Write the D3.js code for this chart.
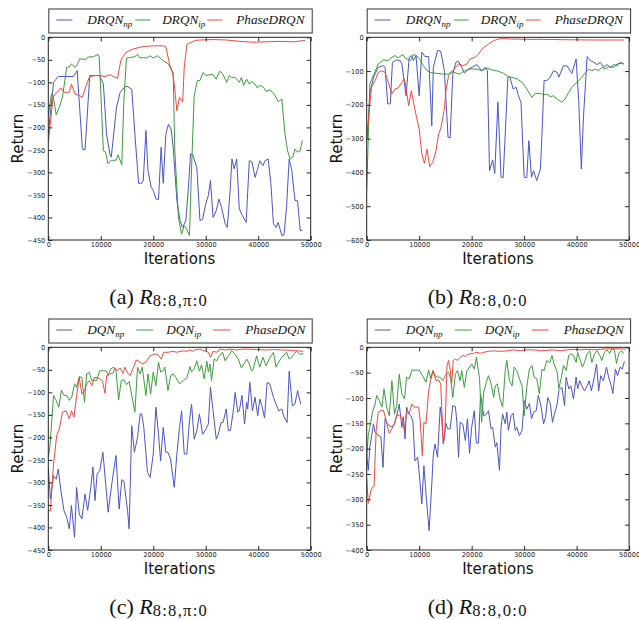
<!DOCTYPE html>
<html>
<head>
<meta charset="utf-8">
<script src="https://cdn.jsdelivr.net/npm/d3@7"></script>
<style>
  body { margin: 0; background: #fff; }
  .tick text { font-family: "DejaVu Sans", sans-serif; font-size: 6.6px; fill: #222; }
  .tick line { stroke: #222; }
</style>
</head>
<body>
<div id="chart"></div>
<script>
// [iterations, return]

// (a) DRQN, R 8:8,pi:0
var aNp = [[0,-215],[1000,-100],[1900,-87],[4800,-87],[5500,-74],[6500,-248],[7000,-250],[7900,-85],[9800,-85],[10500,-104],[11100,-215],[11800,-263],[12000,-266],[13000,-155],[13700,-122],[14600,-110],[15000,-109],[15900,-115],[16500,-215],[17200,-324],[17800,-324],[18100,-318],[18600,-207],[19000,-296],[19600,-333],[20000,-340],[20500,-359],[21000,-360],[21500,-244],[21900,-324],[22400,-215],[22900,-193],[23400,-204],[23800,-244],[24500,-362],[25100,-407],[25600,-422],[26200,-407],[26700,-333],[27100,-259],[27500,-260],[28300,-289],[28900,-407],[29400,-404],[30000,-370],[30500,-351],[30900,-318],[31400,-400],[32000,-385],[32500,-359],[33000,-377],[33700,-414],[34100,-422],[34600,-348],[35000,-270],[35400,-292],[35900,-270],[36400,-381],[37000,-396],[37700,-411],[38300,-274],[38800,-276],[39400,-311],[39800,-296],[40300,-274],[40900,-285],[41300,-274],[41900,-270],[42400,-322],[42900,-414],[43400,-422],[43800,-411],[44500,-440],[44900,-439],[45400,-377],[45900,-270],[46400,-296],[47000,-362],[47500,-363],[48000,-429],[48400,-429]];
var aIp = [[0,-175],[600,-126],[900,-128],[1500,-172],[2100,-155],[2700,-133],[3500,-67],[4000,-66],[4400,-59],[5100,-67],[5500,-61],[6000,-48],[6500,-48],[7000,-50],[7600,-44],[8600,-43],[9500,-38],[9700,-44],[10500,-252],[10900,-255],[11400,-281],[12000,-273],[12900,-273],[13300,-261],[14000,-283],[14400,-140],[14900,-46],[15500,-45],[16500,-43],[17000,-38],[17500,-46],[18100,-45],[18700,-46],[19400,-41],[20000,-46],[20800,-41],[21300,-46],[21900,-52],[22900,-59],[23200,-67],[23800,-78],[24100,-250],[24800,-400],[25400,-437],[25900,-418],[26200,-422],[26900,-440],[27300,-290],[27800,-130],[28400,-96],[28900,-96],[29500,-78],[30000,-85],[30800,-83],[31400,-83],[32000,-93],[32600,-76],[33000,-78],[33300,-83],[34000,-100],[34500,-85],[34900,-89],[35600,-89],[36400,-100],[36800,-89],[37200,-107],[37800,-93],[38300,-104],[38700,-98],[39400,-104],[39800,-112],[40300,-107],[41000,-111],[41500,-120],[42200,-117],[42900,-124],[43400,-133],[43800,-143],[44500,-137],[45100,-215],[45600,-252],[46100,-270],[46600,-266],[47000,-248],[47500,-255],[48000,-252],[48400,-229]];
var aPh = [[0,-235],[900,-133],[1600,-122],[1900,-120],[2400,-112],[3000,-122],[4000,-122],[4400,-104],[5100,-126],[6000,-130],[6500,-133],[7300,-104],[7900,-87],[8900,-85],[9800,-85],[10800,-87],[11800,-83],[12700,-89],[13200,-91],[13800,-52],[14600,-36],[15200,-31],[16200,-26],[17500,-22],[18700,-20],[20000,-19],[21900,-19],[22400,-21],[23100,-59],[23700,-81],[24000,-104],[24500,-163],[25000,-133],[25600,-144],[25900,-67],[26400,-16],[26900,-13],[28000,-7],[28900,-6],[31400,-5],[34000,-6],[36500,-9],[39000,-11],[41600,-10],[44100,-9],[46700,-10],[48900,-7]];

// (b) DRQN, R 8:8,0:0
var bNp = [[100,-300],[600,-168],[1300,-118],[2200,-89],[3200,-84],[3500,-89],[4000,-197],[4500,-197],[4900,-74],[5700,-67],[6400,-69],[6700,-79],[7500,-173],[8100,-59],[8600,-54],[8900,-69],[9400,-54],[10000,-173],[10500,-44],[11100,-57],[11800,-57],[12400,-262],[12700,-89],[13500,-39],[14100,-41],[14800,-99],[15500,-296],[15900,-298],[16400,-108],[17000,-74],[17500,-71],[18100,-89],[18600,-106],[19400,-94],[21000,-81],[21900,-99],[22600,-89],[23000,-99],[23400,-395],[24000,-363],[24400,-403],[25000,-192],[25600,-414],[26000,-416],[26400,-286],[26900,-118],[27300,-118],[27900,-153],[28500,-148],[28900,-173],[29400,-192],[30000,-414],[30500,-416],[30900,-306],[31400,-414],[31800,-395],[32400,-424],[33100,-390],[33400,-286],[33800,-128],[34300,-128],[34900,-120],[35600,-99],[36300,-104],[36600,-118],[37500,-84],[38200,-85],[39100,-107],[39900,-64],[40400,-187],[40900,-390],[41300,-237],[42000,-57],[42600,-69],[43300,-74],[43900,-81],[44500,-74],[45200,-89],[45800,-81],[46400,-89],[47100,-81],[47700,-84],[48300,-74],[49000,-79]];
var bIp = [[0,-454],[600,-138],[1800,-94],[2200,-79],[3200,-67],[4100,-69],[4800,-59],[5400,-54],[6000,-61],[6900,-51],[7300,-61],[8300,-69],[8900,-51],[9500,-54],[10200,-67],[10800,-84],[11500,-99],[12100,-104],[13400,-107],[14600,-109],[15600,-109],[16200,-101],[17200,-107],[17800,-109],[18400,-101],[19700,-94],[21000,-94],[21900,-99],[22900,-91],[23900,-97],[24800,-99],[26100,-107],[27000,-116],[28000,-120],[28600,-123],[29600,-133],[30500,-153],[31500,-178],[32100,-166],[33100,-166],[33700,-170],[34300,-168],[35000,-176],[35600,-173],[36300,-183],[37200,-192],[37800,-183],[38500,-163],[39100,-148],[39700,-138],[40400,-128],[41000,-118],[41700,-104],[42300,-94],[42900,-99],[43600,-94],[44200,-99],[44800,-89],[45500,-94],[46100,-87],[47100,-89],[47700,-79],[48500,-77],[49000,-79]];
var bPh = [[100,-286],[900,-148],[1600,-128],[2200,-104],[2900,-99],[3500,-104],[4100,-133],[4800,-168],[5400,-153],[6000,-150],[6700,-133],[7200,-123],[8000,-202],[8500,-158],[9100,-207],[9500,-237],[10000,-271],[10500,-345],[11000,-373],[11500,-331],[12000,-383],[12600,-370],[13200,-336],[13700,-286],[14100,-271],[14800,-212],[15100,-158],[15600,-113],[16200,-104],[16900,-89],[17500,-79],[18400,-84],[19100,-79],[19700,-64],[20700,-59],[21300,-49],[22300,-30],[23200,-20],[24200,-10],[25100,-5],[26100,-4],[27400,-5],[30500,-6],[33700,-6],[36900,-7],[43200,-8],[49000,-8]];

// (c) DQN, R 8:8,pi:0
var cNp = [[0,-266],[400,-337],[1000,-285],[1500,-293],[1900,-270],[2400,-318],[3000,-363],[3500,-377],[4000,-403],[4400,-351],[5000,-422],[5400,-311],[5900,-370],[6400,-381],[7000,-326],[7500,-362],[8100,-311],[8500,-266],[8900,-340],[9300,-281],[9800,-274],[10400,-233],[11000,-311],[11400,-366],[12100,-303],[12900,-240],[13500,-359],[14000,-294],[14400,-297],[15100,-362],[15400,-403],[15900,-174],[16400,-233],[17000,-200],[17500,-148],[17800,-148],[18200,-178],[18900,-278],[19400,-289],[20000,-237],[20500,-133],[21000,-193],[21400,-252],[21900,-178],[22400,-233],[22800,-233],[23300,-248],[24000,-311],[24500,-237],[25000,-178],[25400,-141],[25900,-237],[26400,-237],[26900,-163],[27300,-126],[27800,-204],[28300,-185],[28800,-148],[29400,-193],[29900,-185],[30500,-170],[30900,-89],[31400,-141],[32000,-204],[32400,-193],[32900,-167],[33300,-167],[33900,-137],[34300,-185],[34700,-185],[35300,-137],[35600,-100],[36100,-144],[36400,-141],[36900,-107],[37400,-170],[37800,-122],[38000,-137],[38400,-78],[38900,-141],[39400,-111],[39900,-152],[40300,-115],[40700,-130],[41200,-157],[41700,-78],[42200,-81],[42900,-111],[43400,-126],[43900,-141],[44500,-137],[44900,-154],[45500,-167],[45900,-53],[46500,-130],[47000,-126],[47500,-96],[48100,-126]];
var cIp = [[0,-244],[300,-222],[1000,-107],[1500,-118],[2000,-133],[2500,-95],[3000,-107],[3500,-107],[4000,-118],[4500,-109],[5000,-81],[5400,-89],[5900,-65],[6400,-67],[6900,-122],[7300,-59],[7800,-56],[8300,-74],[8800,-73],[9200,-74],[9800,-52],[10500,-52],[11100,-53],[11400,-63],[11900,-48],[12500,-44],[12900,-52],[13400,-117],[13900,-74],[14400,-72],[14900,-83],[15400,-76],[16500,-144],[17000,-44],[17500,-59],[17900,-44],[18600,-107],[19000,-59],[19500,-104],[20000,-55],[20500,-85],[21000,-33],[21400,-55],[21900,-52],[22200,-44],[22800,-96],[23300,-63],[23800,-59],[24300,-67],[25000,-81],[25700,-74],[26400,-68],[27000,-43],[27300,-55],[27800,-48],[28300,-30],[28800,-53],[29200,-39],[29700,-70],[30200,-31],[30500,-55],[30800,-37],[31100,-74],[31600,-26],[32100,-30],[32400,-22],[33200,-11],[33700,-30],[34100,-22],[34600,-15],[34900,-7],[35600,-16],[36200,-26],[36800,-46],[37300,-37],[37800,-26],[38300,-37],[38700,-52],[39000,-50],[39700,-19],[40000,-33],[40300,-44],[40900,-22],[41500,-41],[42100,-26],[42900,-11],[43400,-44],[43900,-33],[44500,-22],[45400,-11],[45900,-26],[46400,-22],[46800,-15],[47300,-9],[47900,-15],[48600,-14]];
var cPh = [[0,-363],[400,-363],[1000,-259],[1600,-196],[2100,-181],[2700,-144],[3400,-141],[4000,-159],[4400,-141],[4900,-155],[5400,-107],[5900,-67],[6400,-104],[6900,-96],[7300,-81],[7800,-74],[8300,-85],[8800,-67],[9300,-67],[9800,-70],[10300,-74],[10800,-102],[11100,-63],[11700,-59],[12300,-58],[12700,-46],[13100,-52],[13700,-46],[14200,-58],[14600,-44],[15000,-55],[15600,-63],[16100,-48],[16800,-28],[17500,-33],[18000,-37],[18600,-33],[19400,-19],[20300,-15],[20900,-16],[21500,-26],[22000,-11],[22900,-11],[23700,-9],[24500,-11],[25100,-9],[25800,-8],[26400,-9],[26900,-6],[27500,-9],[27900,-6],[28900,-4],[29500,-7],[30500,-11],[30900,-22],[31400,-9],[32100,-11],[32700,-4],[33700,-6],[34600,-4],[35900,-6],[37100,-4],[38400,-4],[39700,-5],[41600,-6],[42900,-5],[44800,-6],[46700,-7],[48600,-9]];

// (d) DQN, R 8:8,0:0
var dNp = [[0,-211],[300,-243],[600,-197],[1000,-171],[1300,-151],[1600,-168],[1900,-170],[2200,-174],[2700,-176],[3100,-237],[3500,-141],[3900,-151],[4500,-156],[4900,-157],[5300,-150],[5700,-138],[6200,-112],[6700,-158],[7000,-137],[7300,-181],[7600,-118],[8000,-131],[8400,-135],[8800,-146],[9200,-224],[9700,-217],[10000,-247],[10500,-309],[10900,-234],[11400,-303],[11900,-362],[12400,-270],[12700,-211],[13000,-191],[13500,-217],[14000,-118],[14300,-141],[14600,-191],[15100,-150],[15400,-161],[15900,-161],[16400,-115],[16900,-117],[17200,-151],[17500,-217],[17800,-148],[18300,-151],[18800,-184],[19200,-141],[19600,-209],[20000,-158],[20500,-125],[20900,-189],[21300,-189],[21700,-92],[22300,-135],[22800,-132],[23200,-125],[23700,-161],[24000,-158],[24500,-197],[24800,-188],[25300,-243],[25600,-158],[25900,-132],[26400,-151],[26700,-128],[27000,-164],[27500,-135],[27900,-130],[28300,-164],[28600,-158],[29100,-174],[29600,-164],[30000,-105],[30500,-122],[31000,-111],[31400,-141],[31800,-128],[32300,-125],[32700,-95],[33200,-115],[33700,-151],[34100,-137],[34500,-99],[35000,-112],[35400,-148],[35700,-135],[36300,-112],[36600,-86],[37200,-79],[37700,-115],[38000,-59],[38500,-82],[38900,-76],[39400,-102],[39900,-59],[40200,-82],[40600,-66],[41000,-76],[41500,-86],[42000,-76],[42400,-66],[42800,-86],[43300,-63],[43800,-33],[44200,-86],[44600,-56],[45100,-66],[45700,-39],[46100,-59],[46600,-76],[46900,-91],[47400,-43],[47800,-56],[48300,-39],[48700,-43],[49100,-28]];
var dIp = [[0,-217],[300,-174],[600,-158],[1100,-128],[1600,-112],[1900,-95],[2400,-105],[2900,-118],[3300,-82],[3800,-118],[4300,-135],[4800,-66],[5300,-132],[5700,-115],[6200,-53],[6700,-92],[7200,-102],[7600,-59],[8100,-62],[8600,-45],[9200,-45],[10000,-45],[10800,-59],[11300,-69],[11800,-45],[12200,-62],[12600,-46],[13000,-56],[13500,-59],[14000,-59],[14500,-66],[15100,-53],[15600,-49],[16000,-62],[16400,-99],[16900,-53],[17300,-46],[17800,-66],[18100,-46],[18600,-79],[19100,-46],[19600,-39],[20000,-33],[20500,-43],[20900,-20],[21500,-62],[21900,-148],[22300,-89],[22800,-69],[23200,-56],[23700,-72],[24200,-99],[24500,-76],[24900,-72],[25400,-102],[25900,-118],[26400,-46],[26700,-26],[27200,-66],[27700,-76],[28100,-39],[28600,-46],[29100,-62],[29600,-76],[30000,-135],[30500,-79],[31000,-43],[31500,-36],[31900,-59],[32400,-62],[32900,-92],[33400,-43],[33800,-46],[34300,-26],[34900,-30],[35300,-16],[35700,-33],[36300,-49],[36600,-82],[37100,-59],[37500,-36],[38000,-46],[38500,-16],[38900,-13],[39400,-16],[39900,-30],[40200,-10],[40700,-26],[41100,-39],[41500,-30],[42000,-13],[42500,-7],[42900,-30],[43400,-13],[43900,-7],[44400,-16],[44800,-26],[45300,-10],[45800,-5],[46300,-12],[46700,-3],[47200,-5],[47600,-32],[48000,-13],[48500,-7],[49000,-12]];
var dPh = [[0,-257],[300,-308],[800,-283],[1100,-276],[1400,-275],[1800,-164],[2200,-128],[2700,-125],[3200,-124],[3700,-145],[4300,-170],[4800,-161],[5300,-151],[5700,-133],[6200,-135],[6700,-138],[7200,-164],[7600,-128],[8100,-131],[8600,-112],[9000,-118],[9400,-118],[9900,-118],[10200,-146],[10600,-214],[10900,-148],[11300,-151],[11800,-86],[12200,-64],[12700,-46],[13200,-66],[13700,-64],[14100,-72],[14600,-191],[14900,-171],[15300,-36],[15600,-26],[15900,-43],[16200,-71],[16500,-26],[16900,-23],[17300,-26],[17800,-20],[18300,-16],[18800,-18],[19200,-14],[19700,-13],[20300,-12],[21000,-10],[21600,-12],[22300,-10],[23200,-8],[24200,-7],[25400,-8],[26700,-7],[28000,-5],[29300,-7],[30500,-5],[31800,-5],[33100,-7],[34300,-6],[35600,-5],[36900,-7],[38200,-5],[39400,-4],[40700,-5],[42000,-4],[43200,-5],[44500,-4],[45800,-3],[47100,-3],[48300,-3],[49300,-4]];

var xTicks = [0, 10000, 20000, 30000, 40000, 50000];
var drqnLabels = [["DRQN", "np"], ["DRQN", "ip"], ["PhaseDRQN", ""]];
var dqnLabels = [["DQN", "np"], ["DQN", "ip"], ["PhaseDQN", ""]];
var captions = [["(a)", "8:8,π:0"], ["(b)", "8:8,0:0"], ["(c)", "8:8,π:0"], ["(d)", "8:8,0:0"]];
var colors = ["#4a55c4", "#3c9c3c", "#f0483c"];

var svgWidth = 639;
var svgHeight = 620;
var plotW = 262.4;
var plotH = 202.7;

var svg = d3.select("#chart")
  .append("svg")
  .attr("width", svgWidth)
  .attr("height", svgHeight);

// legend handle/text offsets from plot left
var drqnLegend = { lines: [[8, 24], [87, 102], [159, 174]], texts: [39, 114, 188] };
var dqnLegend = { lines: [[8, 24], [88, 105], [165, 182]], texts: [39, 118, 197] };

var panels = [
  { left: 48.3, top: 37.3, yMin: -450, yStep: 50, series: [aNp, aIp, aPh], labels: drqnLabels, legend: drqnLegend, caption: captions[0] },
  { left: 366.7, top: 37.3, yMin: -600, yStep: 100, series: [bNp, bIp, bPh], labels: drqnLabels, legend: drqnLegend, caption: captions[1] },
  { left: 48.3, top: 347.3, yMin: -450, yStep: 50, series: [cNp, cIp, cPh], labels: dqnLabels, legend: dqnLegend, caption: captions[2] },
  { left: 366.7, top: 347.3, yMin: -400, yStep: 50, series: [dNp, dIp, dPh], labels: dqnLabels, legend: dqnLegend, caption: captions[3] }
];

panels.forEach(function(p, i) {
  drawPanel(p, i);
});

function drawPanel(p, i) {
  var g = svg.append("g")
    .attr("transform", `translate(${p.left}, ${p.top})`);

  var xScale = d3.scaleLinear().domain([0, 50000]).range([0, plotW]);
  var yScale = d3.scaleLinear().domain([p.yMin, 0]).range([plotH, 0]);
  var yTicks = d3.range(p.yMin, 1, p.yStep);

  g.append("clipPath")
    .attr("id", "clip" + i)
    .append("rect")
    .attr("width", plotW)
    .attr("height", plotH);

  var line = d3.line()
    .x(d => xScale(d[0]))
    .y(d => yScale(d[1]));

  g.append("g")
    .attr("clip-path", `url(#clip${i})`)
    .selectAll("path")
    .data(p.series)
    .enter()
    .append("path")
    .attr("d", line)
    .attr("fill", "none")
    .attr("stroke", (d, k) => colors[k])
    .attr("stroke-width", 1);

  // ticks inside on all four sides, matplotlib classic look
  var bottom = g.append("g")
    .attr("transform", `translate(0, ${plotH})`)
    .call(d3.axisBottom(xScale).tickValues(xTicks).tickFormat(d3.format("d"))
      .tickSizeInner(-4).tickSizeOuter(0).tickPadding(2.5));
  var left = g.append("g")
    .call(d3.axisLeft(yScale).tickValues(yTicks).tickFormat(d3.format("d"))
      .tickSizeInner(-4).tickSizeOuter(0).tickPadding(3));
  var top = g.append("g")
    .call(d3.axisTop(xScale).tickValues(xTicks).tickFormat("").tickSizeInner(-4).tickSizeOuter(0));
  var right = g.append("g")
    .attr("transform", `translate(${plotW}, 0)`)
    .call(d3.axisRight(yScale).tickValues(yTicks).tickFormat("").tickSizeInner(-4).tickSizeOuter(0));
  [bottom, left, top, right].forEach(a => a.select(".domain").remove());

  g.append("rect")
    .attr("width", plotW)
    .attr("height", plotH)
    .attr("fill", "none")
    .attr("stroke", "#222")
    .attr("stroke-width", 1);

  // axis labels
  g.append("text")
    .attr("x", plotW / 2)
    .attr("y", plotH + 24)
    .attr("text-anchor", "middle")
    .style("font-family", "DejaVu Sans, sans-serif")
    .style("font-size", "15px")
    .attr("fill", "#111")
    .text("Iterations");

  g.append("text")
    .attr("transform", `translate(-25, ${plotH / 2}) rotate(-90)`)
    .attr("text-anchor", "middle")
    .style("font-family", "DejaVu Sans, sans-serif")
    .style("font-size", "15px")
    .attr("fill", "#111")
    .text("Return");

  // legend box above the axes
  var legend = g.append("g")
    .attr("transform", "translate(0, -28.3)");
  legend.append("rect")
    .attr("x", 0.5)
    .attr("width", plotW + 1)
    .attr("height", 24)
    .attr("fill", "#fff")
    .attr("stroke", "#333")
    .attr("stroke-width", 1);

  p.labels.forEach(function(lab, k) {
    legend.append("line")
      .attr("x1", p.legend.lines[k][0])
      .attr("x2", p.legend.lines[k][1])
      .attr("y1", 11)
      .attr("y2", 11)
      .attr("stroke", colors[k])
      .attr("stroke-width", 1);
    var t = legend.append("text")
      .attr("x", p.legend.texts[k])
      .attr("y", 15)
      .style("font-family", "'Liberation Serif', serif")
      .style("font-style", "italic")
      .style("font-size", "13.2px")
      .attr("fill", "#111");
    t.append("tspan").text(lab[0]);
    if (lab[1]) {
      t.append("tspan")
        .attr("dy", 3)
        .style("font-size", "9px")
        .text(lab[1]);
    }
  });

  // caption below the panel, left-aligned at a fixed offset
  var cap = g.append("text")
    .attr("x", 61)
    .attr("y", plotH + 64.5)
    .style("font-family", "'Liberation Serif', serif")
    .style("font-size", "22px")
    .attr("fill", "#111");
  cap.append("tspan").text(p.caption[0] + " ");
  cap.append("tspan").style("font-style", "italic").text("R");
  cap.append("tspan")
    .attr("dy", 2)
    .style("font-size", "16.5px")
    .style("letter-spacing", "1.3px")
    .text(p.caption[1]);
}
</script>
</body>
</html>
